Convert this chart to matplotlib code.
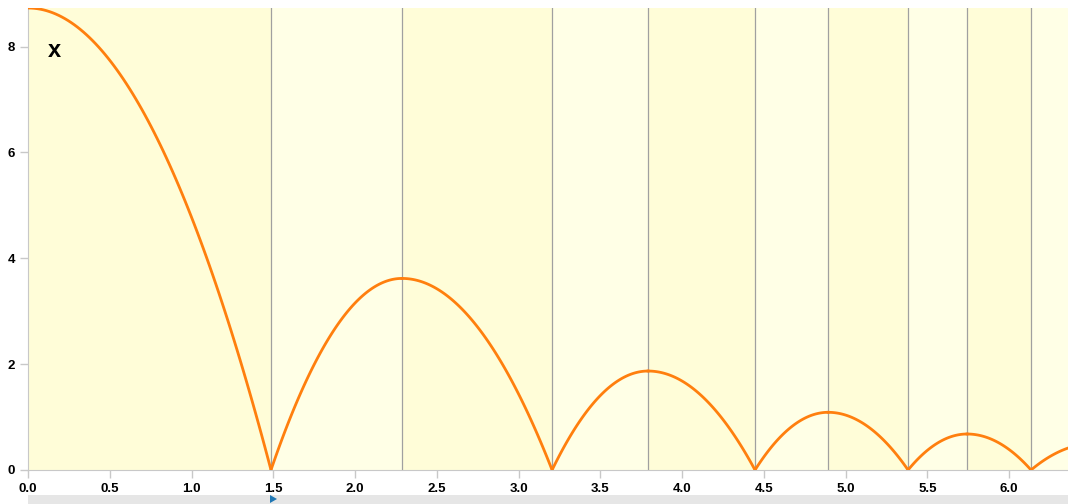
import matplotlib
matplotlib.use("Agg")
import matplotlib.pyplot as plt
import matplotlib.patches as mpatches
import numpy as np

plt.rcParams["font.family"] = ["Liberation Sans", "DejaVu Sans"]

# bounce events
impact_t = [1.486, 3.205, 4.446, 5.382, 6.134]
peak_t = [0.0, 2.287, 3.792, 4.893, 5.743, 6.52]
peak_h = [8.73, 3.62, 1.87, 1.09, 0.68, 0.50]
event_lines = [1.486, 2.287, 3.205, 3.792, 4.446, 4.893, 5.382, 5.743, 6.134]

x_ticks = [0.0, 0.5, 1.0, 1.5, 2.0, 2.5, 3.0, 3.5, 4.0, 4.5, 5.0, 5.5, 6.0]
y_ticks = [0, 2, 4, 6, 8]
x_max = 6.36
y_max = 8.73

fig = plt.figure(figsize=(10.68, 5.04), dpi=100)
ax = fig.add_axes([28 / 1068, 34 / 504, 1040 / 1068, 462 / 504])

# background bands: darker while falling, lighter while rising
edges = [0.0] + event_lines + [x_max]
for i in range(len(edges) - 1):
    color = "#fffdd8" if i % 2 == 0 else "#ffffe6"
    ax.axvspan(edges[i], edges[i + 1], color=color, zorder=0, lw=0)

for xv in event_lines:
    ax.axvline(xv, color="#a0a0a0", lw=0.9, zorder=1)

# each arc as rise/fall half-parabolas between impacts and peaks
starts = [None] + impact_t
ends = impact_t + [None]
for k in range(len(peak_t)):
    tp, hp = peak_t[k], peak_h[k]
    if starts[k] is not None:
        t0 = starts[k]
        t = np.linspace(t0, tp, 80)
        ax.plot(t, hp * (1 - ((tp - t) / (tp - t0)) ** 2), color="#ff7f0e", lw=2.0, zorder=3)
    if ends[k] is not None:
        t1 = ends[k]
        t = np.linspace(tp, t1, 80)
        ax.plot(t, hp * (1 - ((t - tp) / (t1 - tp)) ** 2), color="#ff7f0e", lw=2.0, zorder=3)

ax.set_xlim(0, x_max)
ax.set_ylim(0, y_max)
ax.set_xticks(x_ticks)
ax.set_xticklabels([f"{v:.1f}" for v in x_ticks])
ax.set_yticks(y_ticks)
ax.tick_params(colors="#c8c8c8", labelcolor="black", length=6, width=1, labelsize=9.5)
for lab in ax.get_xticklabels() + ax.get_yticklabels():
    lab.set_fontweight("bold")
for s in ["top", "right"]:
    ax.spines[s].set_visible(False)
for s in ["left", "bottom"]:
    ax.spines[s].set_color("#c8c8c8")

ax.text(0.16, 7.93, "x", fontsize=17, fontweight="bold", ha="center", va="center", zorder=4)

# bottom strip under the chart, with its small marker
fig.add_artist(mpatches.Rectangle((28 / 1068, 0), 1, 9 / 504, transform=fig.transFigure,
                                  color="#e6e6e6", lw=0))
fig.add_artist(mpatches.Polygon([[270 / 1068, 1 / 504], [270 / 1068, 9 / 504], [277 / 1068, 5 / 504]],
                                transform=fig.transFigure, color="#1f77b4", lw=0))

fig.savefig("out.png", dpi=100)
